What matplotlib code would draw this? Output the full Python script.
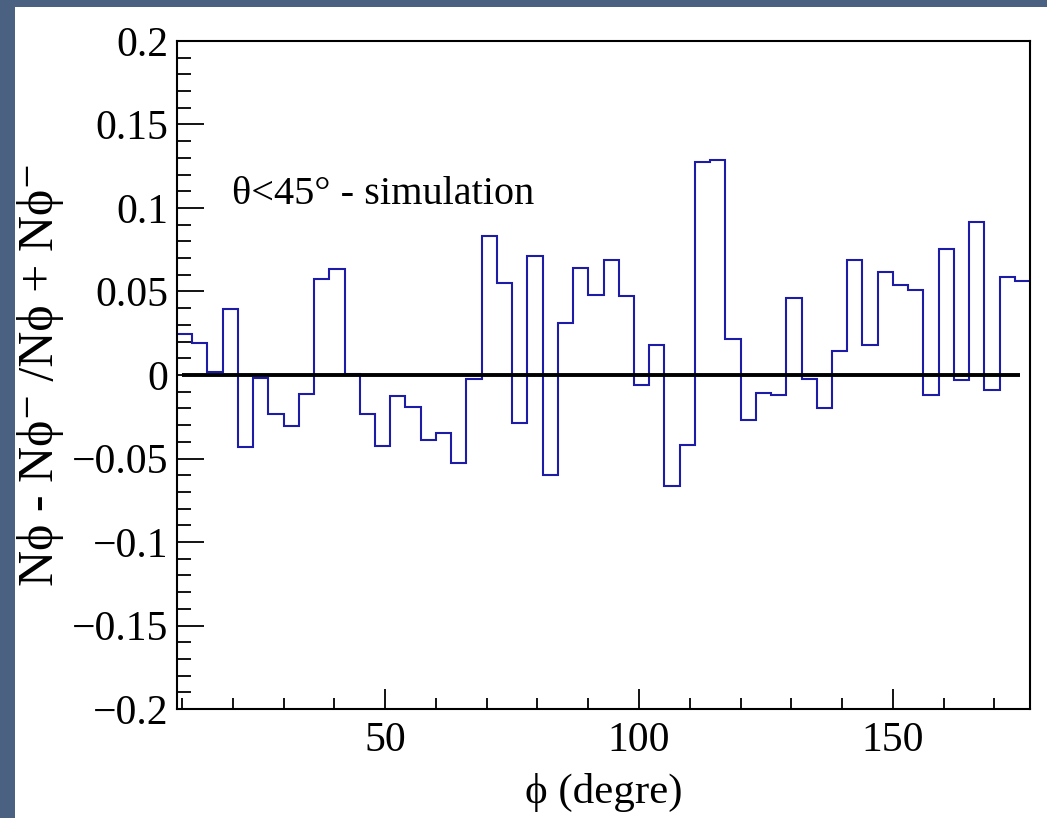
import numpy as np
import matplotlib
matplotlib.use("Agg")
import matplotlib.pyplot as plt
from matplotlib.patches import Rectangle
from matplotlib.ticker import MultipleLocator, FuncFormatter

# ----- data: asymmetry per 3-degree phi bin -----
phi_lo = 9.0
phi_hi = 177.0
bin_width = 3.0
asym = [
    0.0247, 0.0192, 0.0018, 0.0397, -0.0429, -0.0018, -0.0236, -0.0305,
    -0.0112, 0.0573, 0.0633, 0.0003, -0.0232, -0.0425, -0.0126, -0.0192,
    -0.0391, -0.0349, -0.0529, -0.0026, 0.0834, 0.0549, -0.0285, 0.0713,
    -0.0601, 0.0311, 0.0641, 0.0481, 0.0691, 0.0471, -0.0062, 0.0182,
    -0.0663, -0.0419, 0.1275, 0.1286, 0.0216, -0.0269, -0.0106, -0.0118,
    0.0463, -0.0022, -0.0196, 0.0142, 0.0689, 0.0182, 0.0619, 0.0541,
    0.0507, -0.0118, 0.0754, -0.0032, 0.0914, -0.0088, 0.0585, 0.0563,
]
zero_line = (10.0, 175.0)
y_range = (-0.2, 0.2)
label_text = "θ<45° - simulation"
xlabel = "ϕ (degre)"
ylabel = "Nϕ - Nϕ⁻ /Nϕ + Nϕ⁻"

edges = phi_lo + bin_width * np.arange(len(asym) + 1)

fonts = ["Liberation Serif", "STIXGeneral", "DejaVu Serif"]
plt.rcParams["font.family"] = fonts
plt.rcParams["axes.unicode_minus"] = True

W, H = 1047, 818
fig = plt.figure(figsize=(W / 100, H / 100), dpi=100, facecolor="#4b6182")
# white slide panel behind the plot
fig.patches.append(Rectangle((15 / W, 0), 1 - 15 / W, 1 - 7 / H,
                             transform=fig.transFigure, facecolor="white",
                             edgecolor="none", zorder=-5))

ax = fig.add_axes([177 / W, 1 - 709 / H, (1030 - 177) / W, (709 - 41) / H])
ax.set_zorder(2)
ax.set_facecolor("white")

ax.stairs(asym, edges, color="#1c1ca6", linewidth=1.5, baseline=None)
ax.hlines(0, zero_line[0], zero_line[1], color="black", linewidth=2.8)

ax.set_xlim(phi_lo, phi_hi)
ax.set_ylim(*y_range)

ax.xaxis.set_major_locator(MultipleLocator(50))
ax.xaxis.set_minor_locator(MultipleLocator(10))
ax.yaxis.set_major_locator(MultipleLocator(0.05))
ax.yaxis.set_minor_locator(MultipleLocator(0.01))
ax.yaxis.set_major_formatter(FuncFormatter(lambda v, p: ("%g" % round(v, 3)).replace("-", "\u2212")))

ax.tick_params(axis="both", which="both", direction="in", top=False, right=False,
               width=1.3, labelsize=30)
ax.tick_params(axis="y", which="major", length=19.5, pad=6)
ax.tick_params(axis="y", which="minor", length=10)
ax.tick_params(axis="x", which="major", length=14.5, pad=9)
ax.tick_params(axis="x", which="minor", length=8)
for sp in ax.spines.values():
    sp.set_linewidth(1.5)

ax.text(19.8, 0.108, label_text, fontsize=29, ha="left", va="center")

ax.set_xlabel(xlabel, fontsize=31, labelpad=9)
fig.text(41 / W, 1 - 374 / H, ylabel, fontsize=36, rotation=90,
         ha="center", va="center")

fig.savefig("out.png", dpi=100, facecolor=fig.get_facecolor())
